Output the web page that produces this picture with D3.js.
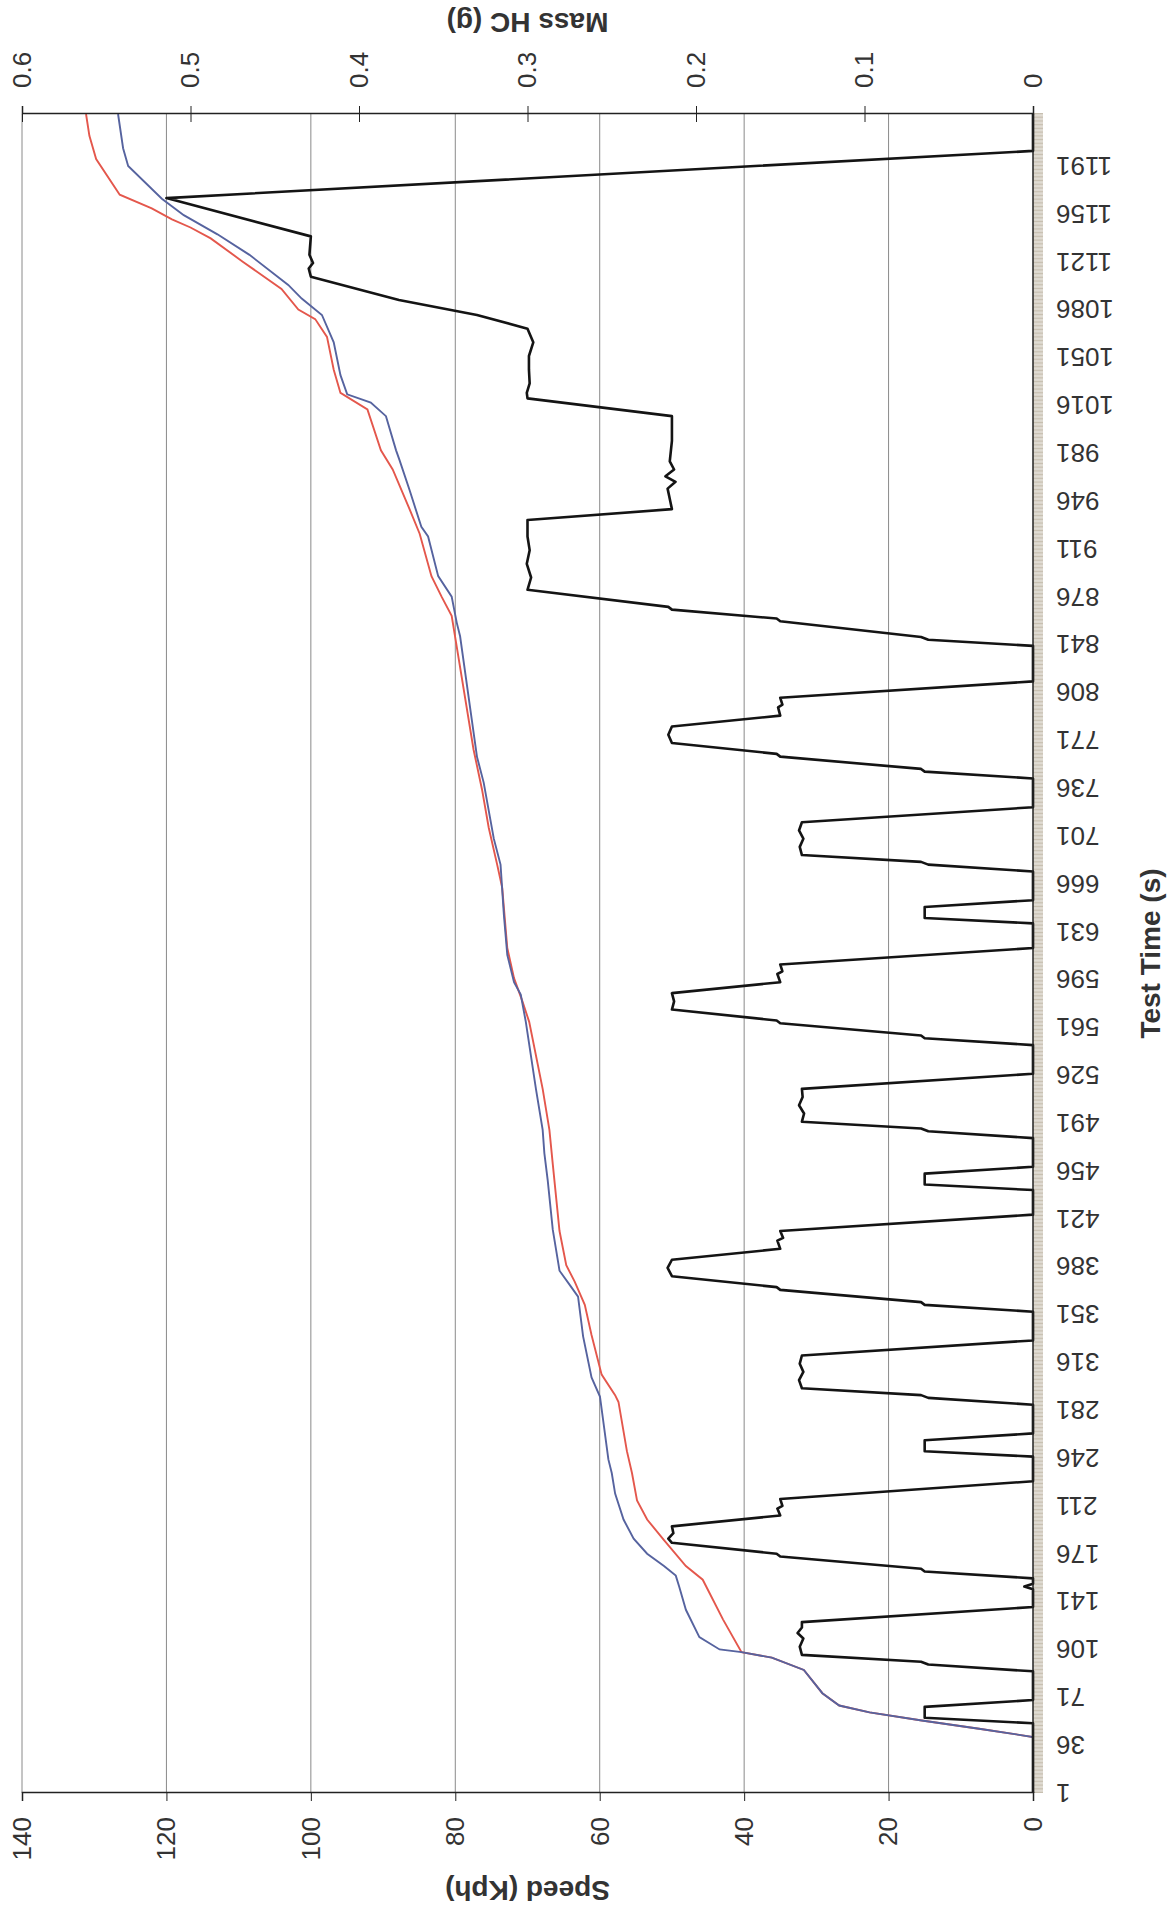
<!DOCTYPE html>
<html>
<head>
<meta charset="utf-8">
<script src="https://cdn.jsdelivr.net/npm/d3@7"></script>
<style>
  body { margin: 0; background: #fff; }
  text { font-family: "Liberation Sans", Arial, sans-serif; fill: #333; }
</style>
</head>
<body>
<svg id="chart"></svg>
<script>
// test time axis (s) - labelled categories
const timeLabels = [1, 36, 71, 106, 141, 176, 211, 246, 281, 316, 351, 386, 421, 456, 491, 526, 561, 596,
  631, 666, 701, 736, 771, 806, 841, 876, 911, 946, 981, 1016, 1051, 1086, 1121, 1156, 1191];
const lastTime = 1229;

const speedTicks = [0, 20, 40, 60, 80, 100, 120, 140];
const massTicks = [0, 0.1, 0.2, 0.3, 0.4, 0.5, 0.6];
const massLabels = ['0', '0.1', '0.2', '0.3', '0.4', '0.5', '0.6'];

// speed trace (Kph)
const speedTime = [1, 52, 56, 64, 69, 90, 95, 97, 102, 108, 114, 118, 122, 126, 137, 150, 152, 154, 158, 163, 165, 174, 176, 184, 187, 191, 196, 204, 209, 211, 216, 229,
  247, 251, 259, 264, 285, 290, 292, 297, 303, 309, 315, 321, 332, 353, 358, 360, 369, 371, 379, 385, 391, 399, 405, 407, 412, 424,
  442, 446, 454, 459, 480, 485, 487, 492, 498, 504, 510, 516, 527, 548, 553, 555, 564, 566, 574, 580, 586, 594, 600, 602, 607, 619,
  637, 641, 649, 654, 675, 680, 682, 687, 693, 699, 705, 711, 722, 743, 748, 750, 759, 761, 769, 775, 781, 789, 795, 797, 802, 814,
  840, 844.5, 846.5, 858, 860, 866.5, 868.5, 881, 890, 900, 910, 920, 932, 940, 945, 955, 960, 964, 969, 975, 990, 1008, 1021, 1025,
  1032, 1042, 1052, 1062, 1072, 1082, 1093, 1110, 1116, 1120, 1126, 1139.5, 1167.5, 1202, 1229];
const speedKph = [0, 0, 15, 15, 0, 0, 14.5, 15.5, 32, 32.3, 31.8, 32.6, 32, 32, 0, 0, 1.2, 0, 0, 15, 15.5, 35, 35.5, 50, 50.5, 49.8, 50, 35, 35.4, 34.7, 35, 0,
  0, 15, 15, 0, 0, 14.5, 15.5, 32, 32.4, 31.8, 32.3, 32, 0, 0, 15, 15.5, 35, 35.5, 50, 50.6, 50, 35, 35.4, 34.6, 35, 0,
  0, 15, 15, 0, 0, 14.5, 15.5, 32, 31.7, 32.4, 31.9, 32, 0, 0, 15, 15.5, 35, 35.5, 50, 49.7, 50, 35, 35.4, 34.7, 35, 0,
  0, 15, 15, 0, 0, 14.5, 15.5, 32, 32.3, 31.8, 32.4, 32, 0, 0, 15, 15.5, 35, 35.5, 50, 50.5, 50, 35, 35.3, 34.7, 35, 0,
  0, 14.5, 15.5, 35, 35.5, 50, 50.5, 70, 69.5, 70.1, 69.7, 70, 70, 50, 50.2, 50.6, 49.5, 50.9, 49.7, 50.3, 50, 50, 70, 70.1,
  69.7, 69.8, 69.8, 69.2, 70, 77, 87.8, 100, 100.3, 99.7, 100.2, 100, 120, 0, 0];

// cumulative mass HC (g), red run
const redTime = [1, 42, 48, 54, 60, 65, 74, 91, 100, 104, 128, 157, 167, 186, 201, 215, 235, 251, 287, 292, 307, 336, 358, 375, 387,
  412, 461, 486, 516, 565, 580, 597, 619, 663, 680, 707, 735, 764, 847, 862, 876, 891, 922, 940, 969, 983, 1013, 1025, 1042, 1066,
  1079, 1086, 1101, 1121, 1138, 1146, 1152, 1160, 1170, 1196, 1213, 1229];
const redMass = [0, 0, 0.032, 0.066, 0.097, 0.115, 0.125, 0.136, 0.155, 0.173, 0.184, 0.196, 0.206, 0.219, 0.229, 0.235, 0.238, 0.241, 0.246, 0.248, 0.256, 0.262, 0.266, 0.272, 0.277,
  0.281, 0.285, 0.287, 0.291, 0.299, 0.303, 0.308, 0.312, 0.315, 0.318, 0.323, 0.327, 0.332, 0.343, 0.345, 0.351, 0.357, 0.364, 0.370, 0.380, 0.387, 0.395, 0.411, 0.415, 0.419,
  0.426, 0.436, 0.446, 0.469, 0.488, 0.500, 0.511, 0.523, 0.542, 0.556, 0.560, 0.562];

// cumulative mass HC (g), blue run
const blueTime = [1, 42, 48, 54, 60, 65, 74, 91, 100, 104, 106, 115, 135, 152, 160, 167, 176, 187, 201, 220, 235, 245, 291, 305, 335,
  364, 371, 383, 413, 449, 469, 486, 516, 565, 585, 594, 614, 643, 680, 699, 740, 759, 847, 857, 876, 891, 920, 927, 954, 976,
  983, 1008, 1018, 1024, 1038, 1062, 1082, 1094, 1104, 1126, 1141, 1155, 1167, 1191, 1204, 1229];
const blueMass = [0, 0, 0.032, 0.066, 0.097, 0.115, 0.125, 0.136, 0.155, 0.173, 0.186, 0.198, 0.206, 0.210, 0.212, 0.219, 0.229, 0.237, 0.243, 0.248, 0.250, 0.252, 0.257, 0.262, 0.267,
  0.270, 0.274, 0.281, 0.285, 0.288, 0.290, 0.291, 0.295, 0.301, 0.304, 0.308, 0.312, 0.314, 0.316, 0.320, 0.326, 0.330, 0.340, 0.342, 0.345, 0.353, 0.359, 0.363, 0.370, 0.376,
  0.378, 0.384, 0.393, 0.407, 0.411, 0.415, 0.422, 0.434, 0.442, 0.465, 0.484, 0.504, 0.517, 0.537, 0.540, 0.543];


class SpeedHcChart {

    pageW = 1176;
    pageH = 1914;
    // the chart is drawn landscape and turned a quarter turn to the left
    originX = 22;
    originY = 1793;
    plotW = 1679;
    plotH = 1011;

    constructor(selector) {
        this.svg = d3.select(selector);
    }

    viewInit() {
        const W = this.plotW, H = this.plotH;
        this.svg.attr('width', this.pageW).attr('height', this.pageH);
        this.svg.append('rect').attr('width', this.pageW).attr('height', this.pageH).attr('fill', '#fff');

        const g = this.svg.append('g')
            .attr('transform', `translate(${this.originX},${this.originY}) rotate(-90)`);

        const x = d3.scaleLinear().domain([1, lastTime]).range([0, W]);
        const ySpeed = d3.scaleLinear().domain([0, 140]).range([H, 0]);
        const yMass = d3.scaleLinear().domain([0, 0.6]).range([H, 0]);

        // gridlines
        g.append('g').selectAll('line')
            .data(speedTicks.filter(v => v > 0))
            .join('line')
            .attr('x1', 0).attr('x2', W)
            .attr('y1', d => ySpeed(d)).attr('y2', d => ySpeed(d))
            .attr('stroke', '#8a8a8a').attr('stroke-width', 1);

        // a tick for every second along the time axis
        const minor = g.append('g')
            .attr('transform', `translate(0,${H})`)
            .call(d3.axisBottom(x).tickValues(d3.range(1, lastTime + 1)).tickSize(10).tickFormat(''));
        minor.select('.domain').remove();
        minor.selectAll('line').attr('stroke', '#b9ae9c').attr('stroke-width', 0.8);

        g.append('g').selectAll('text')
            .data(timeLabels)
            .join('text')
            .attr('transform', d => `translate(${x(d)},${H + 23}) rotate(-90)`)
            .attr('text-anchor', 'end')
            .attr('dy', '0.35em')
            .attr('font-size', 26)
            .text(d => d);

        // series
        const speedLine = d3.line().x(d => x(d[0])).y(d => ySpeed(d[1]));
        const massLine = d3.line().x(d => x(d[0])).y(d => yMass(d[1]));

        g.append('path').datum(d3.zip(redTime, redMass))
            .attr('d', massLine).attr('fill', 'none')
            .attr('stroke', '#e4574c').attr('stroke-width', 1.9);
        g.append('path').datum(d3.zip(blueTime, blueMass))
            .attr('d', massLine).attr('fill', 'none')
            .attr('stroke', '#56639f').attr('stroke-width', 1.9);
        g.append('path').datum(d3.zip(speedTime, speedKph))
            .attr('d', speedLine).attr('fill', 'none')
            .attr('stroke', '#141414').attr('stroke-width', 2.6)
            .attr('stroke-linejoin', 'round');

        // speed axis (shows at the bottom of the page)
        const sAxis = g.append('g')
            .call(d3.axisLeft(ySpeed).tickValues(speedTicks).tickSize(8).tickPadding(16));
        sAxis.attr('font-size', 26).attr('font-family', null);
        sAxis.selectAll('line, .domain').attr('stroke', '#222');
        sAxis.select('.domain').attr('stroke-width', 1.5);

        // mass axis (shows at the top of the page)
        const mAxis = g.append('g')
            .attr('transform', `translate(${W},0)`)
            .call(d3.axisRight(yMass).tickValues(massTicks).tickSize(8).tickPadding(18)
                .tickFormat((d, i) => massLabels[i]));
        mAxis.attr('font-size', 26).attr('font-family', null);
        mAxis.selectAll('.tick line').attr('x1', -8).attr('x2', 8).attr('stroke', '#222');
        mAxis.select('.domain').attr('stroke', '#222').attr('stroke-width', 1.5);

        g.append('line')
            .attr('x1', 0).attr('x2', W).attr('y1', H).attr('y2', H)
            .attr('stroke', '#222').attr('stroke-width', 1.5);

        // titles
        g.append('text')
            .attr('transform', `translate(${W / 2},${H + 117})`)
            .attr('text-anchor', 'middle').attr('dominant-baseline', 'central')
            .attr('font-size', 28).attr('font-weight', 'bold')
            .text('Test Time (s)');
        g.append('text')
            .attr('transform', `translate(-97,${H / 2}) rotate(-90)`)
            .attr('text-anchor', 'middle').attr('dominant-baseline', 'central')
            .attr('font-size', 28).attr('font-weight', 'bold')
            .text('Speed (Kph)');
        g.append('text')
            .attr('transform', `translate(${W + 92},${H / 2}) rotate(-90)`)
            .attr('text-anchor', 'middle').attr('dominant-baseline', 'central')
            .attr('font-size', 28).attr('font-weight', 'bold')
            .text('Mass HC (g)');
    }
}

new SpeedHcChart('#chart').viewInit();
</script>
</body>
</html>
